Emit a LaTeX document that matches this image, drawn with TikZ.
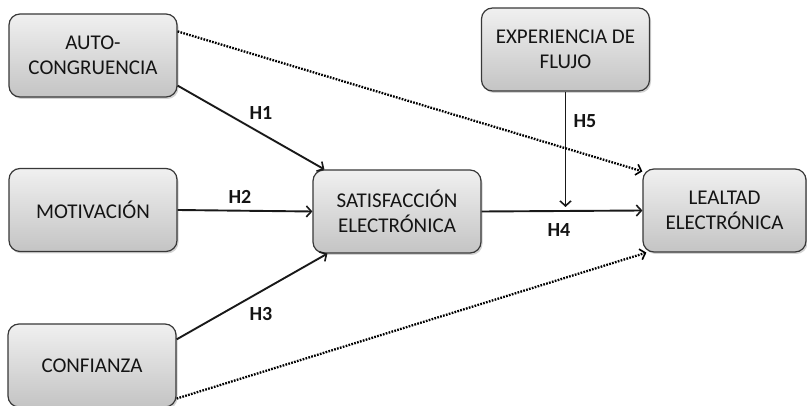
\documentclass[tikz,border=0pt]{standalone}
\usepackage{fontspec}
\setmainfont{Carlito}
\usetikzlibrary{arrows.meta,shadows}
\definecolor{boxtop}{HTML}{F0F0F0}
\definecolor{boxbot}{HTML}{C4C4C4}
\definecolor{boxline}{HTML}{383838}
\definecolor{txt}{HTML}{141414}
\begin{document}
\begin{tikzpicture}[x=1pt,y=-1pt,
  var/.style={draw=boxline,line width=1.2pt,rounded corners=11pt,top color=boxtop,bottom color=boxbot,
    minimum width=168pt,minimum height=83pt,align=center,font=\fontsize{21}{25}\selectfont,text=txt,
    inner sep=0pt,drop shadow={shadow xshift=1.5pt,shadow yshift=-2pt,opacity=0.35}},
  hyp/.style={font=\fontsize{20}{24}\selectfont\bfseries,text=txt,inner sep=0pt},
  path/.style={line width=1.9pt,draw=black!90,-{Straight Barb[length=5pt,width=11pt,line width=1.6pt]}},
  weak/.style={line width=2.3pt,draw=black,dash pattern=on 1.7pt off 1.3pt,-{Straight Barb[length=5pt,width=11pt,line width=1.6pt]}}
]
\useasboundingbox (0,0) rectangle (807,406);
\node[var] (auto) at (93,55.5) {AUTO-\\CONGRUENCIA};
\node[var] (mot) at (93,210) {MOTIVACIÓN};
\node[var] (conf) at (92,365.5) {CONFIANZA};
\node[var] (sat) at (397,211.5) {SATISFACCIÓN\\ELECTRÓNICA};
\node[var] (exp) at (565.5,49.5) {EXPERIENCIA DE\\FLUJO};
\node[var,minimum width=163pt] (lea) at (724.5,210.5) {LEALTAD\\ELECTRÓNICA};
\coordinate (h5end) at (565.5,207);

\draw[path] ([yshift=12pt]auto.south east) -- ([xshift=12pt]sat.north west);
\draw[path] (mot.east) -- (sat.west);
\draw[path] ([yshift=-16pt]conf.north east) -- ([xshift=15pt]sat.south west);
\draw[path] (sat.east) -- (lea.west);
\draw[path] (exp.south) -- (h5end);
\draw[weak] ([yshift=-18pt]auto.north east) -- ([yshift=-3pt]lea.north west);
\draw[weak] ([yshift=9pt]conf.south east) -- ([xshift=4pt]lea.south west);

\node[hyp] (h1) at (261,113) {H1};
\node[hyp] (h2) at (240,197) {H2};
\node[hyp] (h3) at (261,314) {H3};
\node[hyp] (h4) at (559,230) {H4};
\node[hyp] (h5) at (585,121) {H5};
\end{tikzpicture}
\end{document}
